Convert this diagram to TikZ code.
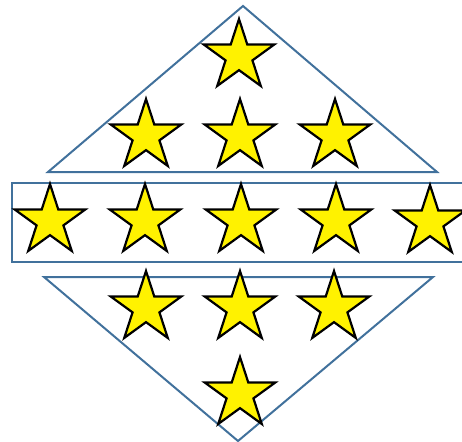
\documentclass[tikz,border=0pt]{standalone}
\usetikzlibrary{shapes.geometric}
\definecolor{edgeblue}{HTML}{41719C}
\tikzset{
  starbox/.style={star, star points=5, star point ratio=2.618, minimum size=74pt, inner sep=0pt,
    draw=black, fill=yellow, line width=2.2pt, miter limit=10},
  blueline/.style={draw=edgeblue, line width=2pt}
}
\begin{document}
\begin{tikzpicture}[x=1pt,y=-1pt]
\useasboundingbox (0,0) rectangle (462,441);
\clip (0,0) rectangle (462,441);
% shapes
\draw[blueline] (48,172) -- (243,6) -- (437,172) -- cycle;
\draw[blueline] (12,183) rectangle (475,262);
\draw[blueline] (44,277) -- (433,277) -- (238,441) -- cycle;
% stars
\node[starbox] (s1) at (239,56) {};
\node[starbox] (s2) at (146,136) {};
\node[starbox] (s3) at (240,136) {};
\node[starbox] (s4) at (335,136) {};
\node[starbox] (s5) at (50,221) {};
\node[starbox] (s6) at (145,221) {};
\node[starbox] (s7) at (241,221) {};
\node[starbox] (s8) at (336,221) {};
\node[starbox] (s9) at (430,222) {};
\node[starbox] (s10) at (146,308) {};
\node[starbox] (s11) at (240,308) {};
\node[starbox] (s12) at (334,308) {};
\node[starbox] (s13) at (240,394) {};
\end{tikzpicture}
\end{document}
